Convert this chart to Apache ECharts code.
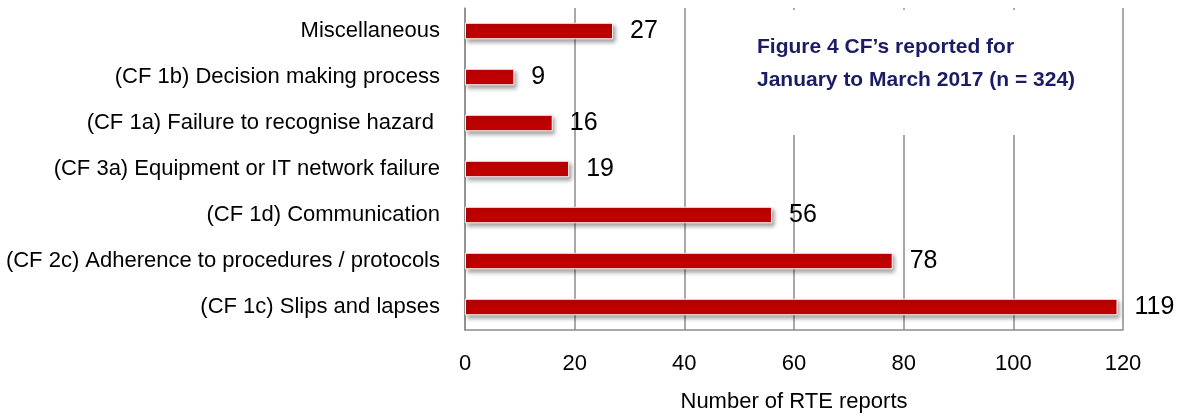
<!DOCTYPE html>
<html>
<head>
<meta charset="utf-8">
<script src="https://cdn.jsdelivr.net/npm/echarts@6/dist/echarts.min.js"></script>
<style>
  html, body { margin: 0; padding: 0; background: #fff; }
  #chart { width: 1186px; height: 418px; }
</style>
</head>
<body>
<div id="chart"></div>
<script>
// Contributory factors, listed bottom to top as drawn on the category axis
const categories = [
  '(CF 1c) Slips and lapses',
  '(CF 2c) Adherence to procedures / protocols',
  '(CF 1d) Communication',
  '(CF 3a) Equipment or IT network failure',
  '(CF 1a) Failure to recognise hazard ',
  '(CF 1b) Decision making process',
  'Miscellaneous'
];
const reportCounts = [119, 78, 56, 19, 16, 9, 27];
const axisMax = 120;
const axisStep = 20;
const axisTitle = 'Number of RTE reports';
const figureCaption = ['Figure 4 CF\u2019s reported for', 'January to March 2017 (n = 324)'];

const sans = '"Liberation Sans", Arial, sans-serif';

const chart = echarts.init(document.getElementById('chart'), null, { renderer: 'canvas' });
chart.setOption({
  animation: false,
  backgroundColor: '#fff',
  grid: { left: 465, right: 63, top: 8, bottom: 84, containLabel: false },
  xAxis: {
    type: 'value',
    min: 0,
    max: axisMax,
    interval: axisStep,
    name: axisTitle,
    nameLocation: 'middle',
    nameGap: 61,
    nameTextStyle: { fontFamily: sans, fontSize: 22, color: '#000' },
    axisLine: { show: true, lineStyle: { color: '#8c8c8c', width: 1.5 } },
    axisTick: { show: false },
    axisLabel: { fontFamily: sans, fontSize: 22, color: '#000', margin: 23 },
    splitLine: { show: true, lineStyle: { color: '#8c8c8c', width: 1.5 } }
  },
  yAxis: {
    type: 'category',
    data: categories,
    axisLine: { show: true, lineStyle: { color: '#8c8c8c', width: 1.5 } },
    axisTick: { show: false },
    axisLabel: { fontFamily: sans, fontSize: 22, color: '#000', margin: 25 }
  },
  graphic: [{
    type: 'group',
    left: 750,
    top: 10,
    z: 100,
    children: [
      { type: 'rect', z: 100, shape: { x: 0, y: 0, width: 350, height: 125 }, style: { fill: '#fff' } },
      {
        type: 'text', z: 101, x: 7, y: 21,
        style: {
          text: figureCaption.join('\n'),
          font: 'bold 21px ' + sans,
          fill: '#1c1c64',
          lineHeight: 33
        }
      }
    ]
  }],
  series: [{
    type: 'bar',
    data: reportCounts,
    barWidth: '36%',
    itemStyle: {
      color: '#c00000',
      borderColor: '#fff',
      borderWidth: 1,
      shadowColor: 'rgba(0,0,0,0.35)',
      shadowBlur: 4,
      shadowOffsetX: 2,
      shadowOffsetY: 3
    },
    label: {
      show: true,
      position: 'right',
      distance: 17,
      fontFamily: sans,
      fontSize: 25,
      color: '#000'
    }
  }]
});
</script>
</body>
</html>
